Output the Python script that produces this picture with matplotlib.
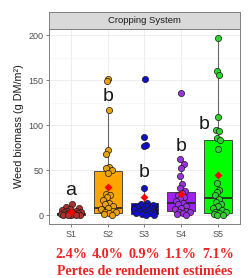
import numpy as np
import matplotlib
matplotlib.use('Agg')
import matplotlib.pyplot as plt
import matplotlib.transforms as mtransforms

# categories and annotations
systems = ['S1', 'S2', 'S3', 'S4', 'S5']
yield_loss = ['2.4%', '4.0%', '0.9%', '1.1%', '7.1%']
letters = ['a', 'b', 'b', 'b', 'b']
letter_y = [27, 132, 47, 76, 101]

# weed biomass per plot (g DM/m2)
s1 = [12, 9, 8, 7, 6, 5, 5, 4, 3, 3, 2, 2, 1.5, 1, 1, 0.5, 0.5, 0.2, 0, 0]
s2 = [151, 149, 117, 72, 68, 54, 52, 50, 47, 24, 22, 20, 17, 14, 12,
      10, 8, 7, 5, 4, 3, 2, 1, 0.5]
s3 = [151, 87, 78, 77, 30, 13, 12, 11, 10, 9, 8, 7, 7, 6, 5, 4, 3, 2, 2,
      1, 0.5, 0]
s4 = [136, 62, 57, 52, 44, 35, 30, 27, 25, 22, 20, 18, 16, 14, 12, 10,
      8, 7, 5, 4, 3, 2, 1, 0.5]
s5 = [197, 160, 156, 109, 95, 93, 86, 84, 73, 36, 28, 26, 22, 18, 15,
      12, 10, 8, 6, 4, 3, 2, 1, 0.5, 0]
groups = [s1, s2, s3, s4, s5]

# box statistics and means as drawn
box_q1 = [0.3, 2.6, 1.0, 4.8, 2.6]
box_med = [1.0, 8.1, 6.7, 13.7, 18.9]
box_q3 = [2.5, 48.9, 13.0, 25.9, 84.0]
whisk_lo = [0, 0, 0, 0, 0]
whisk_hi = [6, 116, 30, 55, 196]
means = [3.5, 31.5, 20.4, 23.0, 45.0]

box_colors = ['#A52A2A', '#FFA500', '#0000CD', '#A020F0', '#00FF00']
pt_colors = ['#B0302E', '#E9A20E', '#1010C8', '#9A32E0', '#2ED42E']


def spread(vals, step=0.618034):
    vals = np.asarray(vals, float)
    out = np.zeros(len(vals))
    for i, v in enumerate(vals):
        n = np.sum(np.abs(vals - v) < 6)
        w = min(0.3, 0.03 * n)
        out[i] = w * (((i + 1) * step) % 1 * 2 - 1)
    return out


fig = plt.figure(figsize=(2.48, 2.78), dpi=100)
ax = fig.add_axes([0.1976, 0.1942, 0.770, 0.7014])
pos = np.arange(1, 6)

stats = []
for i in range(5):
    stats.append(dict(med=box_med[i], q1=box_q1[i], q3=box_q3[i],
                      whislo=whisk_lo[i], whishi=whisk_hi[i], fliers=[]))
bp = ax.bxp(stats, positions=pos, widths=0.75, patch_artist=True,
            showfliers=False, showcaps=False,
            boxprops=dict(edgecolor='#333333', linewidth=0.6),
            whiskerprops=dict(color='#666666', linewidth=0.8),
            medianprops=dict(color='#222222', linewidth=1.2))
for patch, c in zip(bp['boxes'], box_colors):
    patch.set_facecolor(c)
    patch.set_zorder(2)

for i, vals in enumerate(groups):
    xs = pos[i] + spread(vals)
    ax.scatter(xs, vals, s=20, color=pt_colors[i], edgecolor='#1a1a1a',
               linewidth=0.5, zorder=3)

ax.scatter(pos, means, marker='D', s=16, color='red', zorder=4, linewidth=0)

for i, (lab, ly) in enumerate(zip(letters, letter_y)):
    dx = -0.37 if i == 4 else 0
    ax.text(pos[i] + dx, ly, lab, ha='center', va='center', fontsize=14,
            family='Liberation Sans', color='#1a1a1a', zorder=5)

ax.set_xlim(0.4, 5.6)
ax.set_ylim(-9.85, 206.85)
ax.set_xticks(pos)
ax.set_xticklabels(systems)
ax.set_yticks([0, 50, 100, 150, 200])
ax.set_yticks([25, 75, 125, 175], minor=True)
ax.grid(which='major', color='#EBEBEB', linewidth=0.6)
ax.grid(which='minor', axis='y', color='#F2F2F2', linewidth=0.4)
ax.set_axisbelow(True)
ax.tick_params(which='major', length=2.5, width=0.5, color='#4d4d4d',
               labelsize=6.5, labelcolor='#4d4d4d', pad=1.5)
ax.tick_params(which='minor', length=0)
for lab in ax.get_xticklabels() + ax.get_yticklabels():
    lab.set_family('Liberation Sans')
for sp in ax.spines.values():
    sp.set_color('#808080')
    sp.set_linewidth(0.7)
ax.set_ylabel('Weed biomass (g DM/m²)', fontsize=7.8, family='Liberation Sans',
              color='#1a1a1a', labelpad=3)

# facet strip
strip = fig.add_axes([0.1976, 0.8957, 0.770, 0.0622])
strip.set_facecolor('#D9D9D9')
strip.set_xticks([])
strip.set_yticks([])
for sp in strip.spines.values():
    sp.set_color('#808080')
    sp.set_linewidth(0.7)
strip.text(0.5, 0.5, 'Cropping System', ha='center', va='center',
           fontsize=6.8, family='Liberation Sans', color='#1a1a1a',
           transform=strip.transAxes)

# estimated yield losses under the axis
tr = mtransforms.blended_transform_factory(ax.transData, fig.transFigure)
for i, t in enumerate(yield_loss):
    fig.text(pos[i], 0.083, t, transform=tr, ha='center', va='center',
             fontsize=10.2, family='Liberation Serif', weight='bold',
             color='#EE2222')
fig.text(0.582, 0.024, 'Pertes de rendement estimées', ha='center',
         va='center', fontsize=10.0, family='Liberation Serif', weight='bold',
         color='#EE2222')

fig.savefig('out.png', dpi=100)
